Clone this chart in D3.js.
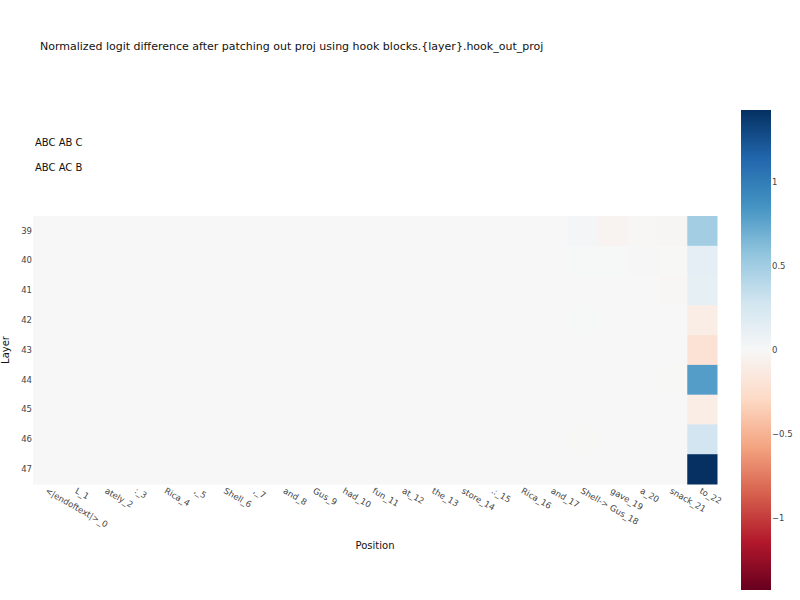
<!DOCTYPE html>
<html><head><meta charset="utf-8">
<script src="https://cdn.jsdelivr.net/npm/d3@7"></script>
<style>
body{margin:0;background:#fff;}
text{font-family:"DejaVu Sans",sans-serif;}
</style></head>
<body><svg id="chart" width="800" height="600"></svg>
<script>
// ---- data ----
const positions = ["<|endoftext|>_0","L_1","ately_2",":_3","Rica_4",",_5","Shell_6",",_7","and_8","Gus_9","had_10","fun_11","at_12","the_13","store_14",".:_15","Rica_16","and_17","Shell-> Gus_18","gave_19","a_20","snack_21","to_22"];
const layers = [39,40,41,42,43,44,45,46,47];
// one row per layer (39..47), one value per position (0..22)
const layer39 = [0,0,0,0,0,0,0,0,0,0,0,0,0,0,0,0,0,0.002,0.03,-0.04,-0.015,-0.02,0.50];
const layer40 = [0,0,0,0,0,0,0,0,0,0,0,0,0,0,0,0,0,0,0.004,0.004,0.01,-0.004,0.14];
const layer41 = [0,0,0,0,0,0,0,0,0,0,0,0,0,0,0,0,0,0,0,0,0,-0.01,0.13];
const layer42 = [0,0,0,0,0,0,0,0,0,0,0,0,0,0,0,0,0,0,0.005,0,0,0,-0.10];
const layer43 = [0,0,0,0,0,0,0,0,0,0,0,0,0,0,0,0,0,0,0,0,0,0,-0.21];
const layer44 = [0,0,0,0,0,0,0,0,0,0,0,0,0,0,0,0,0,0,0,0,0,-0.003,0.80];
const layer45 = [0,0,0,0,0,0,0,0,0,0,0,0,0,0,0,0,0,0,0,0,0,0,-0.10];
const layer46 = [0,0,0,0,0,0,0,0,0,0,0,0,0,0,0,0,0,0,-0.003,0,0,0.002,0.28];
const layer47 = [0,0,0,0,0,0,0,0,0,0,0,0,0,0,0,0,0,0,0,0,0,0,1.43];
const rows = [layer39,layer40,layer41,layer42,layer43,layer44,layer45,layer46,layer47];
const colorTicks = [1,0.5,0,-0.5,-1];
const titleText = "Normalized logit difference after patching out proj using hook blocks.{layer}.hook_out_proj";
const notes = ["ABC AB C","ABC AC B"];

// ---- drawing ----
const svg = d3.select("#chart");
const zmax = d3.max(rows.flat(), d => Math.abs(d));
const rdbu = ["rgb(103,0,31)","rgb(178,24,43)","rgb(214,96,77)","rgb(244,165,130)","rgb(253,219,199)","rgb(247,247,247)","rgb(209,229,240)","rgb(146,197,222)","rgb(67,147,195)","rgb(33,102,172)","rgb(5,48,97)"];
const color = d3.scaleLinear()
  .domain(d3.range(11).map(i => -zmax + i * (2*zmax/10)))
  .range(rdbu).interpolate(d3.interpolateRgb).clamp(true);

const x = d3.scaleBand().domain(d3.range(positions.length)).range([33,717]).padding(0);
const y = d3.scaleBand().domain(layers).range([216,484]).padding(0);

// title
svg.append("text").attr("x",40).attr("y",50).attr("font-size",11).attr("fill","#111").text(titleText);
svg.selectAll("text.note").data(notes).join("text").attr("class","note")
  .attr("x",35).attr("y",(d,i)=>146+i*25).attr("font-size",10).attr("fill","#111").text(d=>d);

// cells
const cells = [];
rows.forEach((r,ri)=> r.forEach((v,ci)=> cells.push({layer:layers[ri],pos:ci,v})));
svg.append("g").selectAll("rect").data(cells).join("rect")
  .attr("x",d=>x(d.pos)).attr("y",d=>y(d.layer))
  .attr("width",x.bandwidth()+0.5).attr("height",y.bandwidth()+0.5)
  .attr("fill",d=>color(d.v));

// y axis
const yAxis = svg.append("g").attr("transform","translate(33,0)")
  .call(d3.axisLeft(y).tickSize(0).tickPadding(1));
yAxis.select(".domain").remove();
yAxis.selectAll("text").attr("font-size",8.5).attr("fill","#444").attr("font-family","DejaVu Sans");

// x axis
const xAxis = svg.append("g").attr("transform","translate(0,487)")
  .call(d3.axisBottom(x).tickSize(0).tickFormat(i=>positions[i]));
xAxis.select(".domain").remove();
xAxis.selectAll("text").attr("font-size",8.5).attr("fill","#444").attr("font-family","DejaVu Sans")
  .attr("text-anchor","start").attr("y",0).attr("dy","0.75em")
  .attr("transform","rotate(30)");

// axis titles
svg.append("text").attr("x",375).attr("y",549).attr("text-anchor","middle").attr("font-size",10).attr("fill","#111").text("Position");
svg.append("text").attr("transform","translate(9,350) rotate(-90)").attr("text-anchor","middle").attr("font-size",10).attr("fill","#111").text("Layer");

// colorbar
const cbTop=110, cbBot=590, cbX=741, cbW=30;
const cy = d3.scaleLinear().domain([-zmax,zmax]).range([cbBot,cbTop]);
const defs = svg.append("defs");
const grad = defs.append("linearGradient").attr("id","cbgrad").attr("x1",0).attr("y1",1).attr("x2",0).attr("y2",0);
grad.selectAll("stop").data(rdbu).join("stop")
  .attr("offset",(d,i)=>i/10).attr("stop-color",d=>d);
svg.append("rect").attr("x",cbX).attr("y",cbTop).attr("width",cbW).attr("height",cbBot-cbTop).attr("fill","url(#cbgrad)");
const cAxis = svg.append("g").attr("transform",`translate(${cbX+cbW},0)`)
  .call(d3.axisRight(cy).tickValues(colorTicks).tickSize(0).tickPadding(1).tickFormat(d3.format("")));
cAxis.select(".domain").remove();
cAxis.selectAll("text").attr("font-size",8.5).attr("fill","#444").attr("font-family","DejaVu Sans");
</script></body></html>
